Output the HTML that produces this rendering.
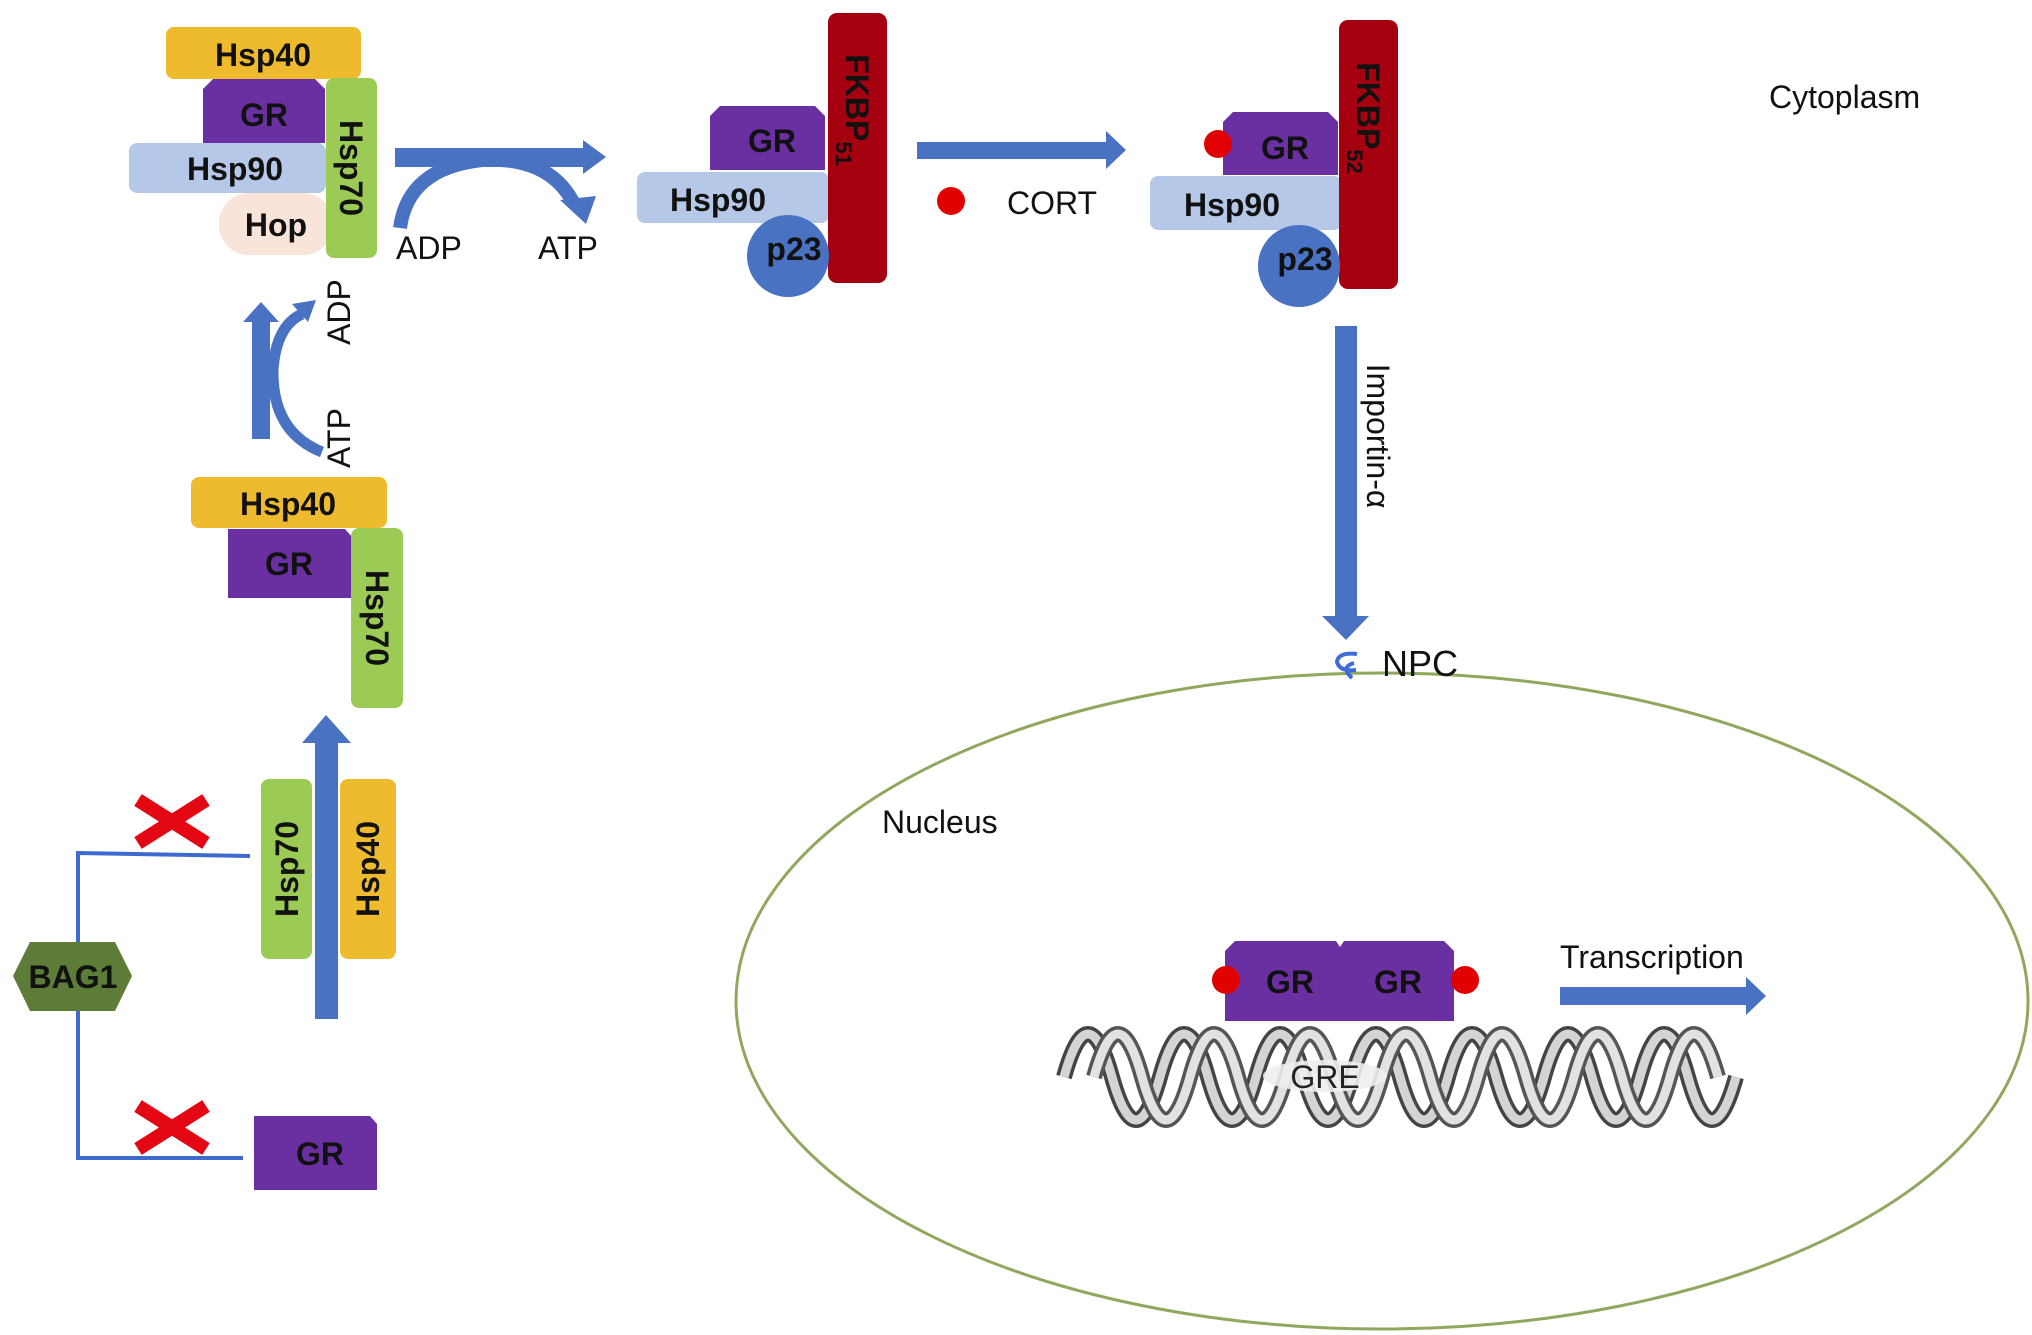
<!DOCTYPE html>
<html><head><meta charset="utf-8"><style>
html,body{margin:0;padding:0;background:#fff;}
svg{display:block;}
text{font-family:"Liberation Sans",Arial,sans-serif;}
.b{font-weight:bold;fill:#111;font-size:32px;}
.n{fill:#111;font-size:32px;}
</style></head><body>
<svg width="2032" height="1335" viewBox="0 0 2032 1335" xmlns="http://www.w3.org/2000/svg">
<ellipse cx="1382" cy="1001" rx="646" ry="328" fill="none" stroke="#8FA85E" stroke-width="3"/>

<rect x="166" y="27" width="195" height="52" rx="8" fill="#EFBB2E"/>
<text class="b" x="263" y="66" text-anchor="middle">Hsp40</text>
<polygon points="203,143 203,89 213,79 315,79 325,89 325,143" fill="#6A30A2"/>
<text class="b" x="264" y="126" text-anchor="middle">GR</text>
<rect x="129" y="143" width="197" height="50" rx="8" fill="#B6C8E8"/>
<text class="b" x="235" y="180" text-anchor="middle">Hsp90</text>
<rect x="219" y="193" width="114" height="62" rx="30" fill="#F8E4D8"/>
<text class="b" x="276" y="236" text-anchor="middle">Hop</text>
<rect x="326" y="78" width="51" height="180" rx="8" fill="#9CCB55"/>
<text class="b" x="351" y="168" text-anchor="middle" transform="rotate(90 351 168)" dy="11">Hsp70</text>

<rect x="395" y="148" width="190" height="19" fill="#4A72C2"/>
<polygon points="583,140 606,157 583,174" fill="#4A72C2"/>
<path d="M400 228 Q408 168 482 160 Q550 156 574 204" fill="none" stroke="#4A72C2" stroke-width="14"/>
<polygon points="560,200 596,196 586,224" fill="#4A72C2"/>
<text class="n" x="396" y="259">ADP</text>
<text class="n" x="538" y="259">ATP</text>

<rect x="252" y="318" width="18" height="121" fill="#4A72C2"/>
<polygon points="243,322 261,302 279,322" fill="#4A72C2"/>
<path d="M322 452 Q272 432 273 370 Q276 326 302 314" fill="none" stroke="#4A72C2" stroke-width="11"/>
<polygon points="292,304 316,300 308,322" fill="#4A72C2"/>
<text class="n" x="350" y="312" text-anchor="middle" transform="rotate(-90 350 312)" font-size="30">ADP</text>
<text class="n" x="350" y="438" text-anchor="middle" transform="rotate(-90 350 438)" font-size="30">ATP</text>

<rect x="191" y="477" width="196" height="51" rx="8" fill="#EFBB2E"/>
<text class="b" x="288" y="515" text-anchor="middle">Hsp40</text>
<polygon points="228,598 228,529 345,529 352,537 352,598" fill="#6A30A2"/>
<text class="b" x="289" y="575" text-anchor="middle">GR</text>
<rect x="351" y="528" width="52" height="180" rx="8" fill="#9CCB55"/>
<text class="b" x="377" y="618" text-anchor="middle" transform="rotate(90 377 618)" dy="11">Hsp70</text>

<rect x="261" y="779" width="51" height="180" rx="8" fill="#9CCB55"/>
<text class="b" x="287" y="869" text-anchor="middle" transform="rotate(-90 287 869)" dy="11">Hsp70</text>
<rect x="340" y="779" width="56" height="180" rx="8" fill="#EFBB2E"/>
<text class="b" x="368" y="869" text-anchor="middle" transform="rotate(-90 368 869)" dy="11">Hsp40</text>
<rect x="315" y="740" width="23" height="279" fill="#4A72C2"/>
<polygon points="302,743 326,715 351,743" fill="#4A72C2"/>

<polyline points="250,856 78,853 78,1158 243,1158" fill="none" stroke="#3E6AD0" stroke-width="4"/>
<polygon points="13,976 30,942 115,942 132,976 115,1011 30,1011" fill="#5C7C38"/>
<text class="b" x="73" y="988" text-anchor="middle" font-size="30">BAG1</text>
<g stroke="#E30613" stroke-width="14" stroke-linecap="butt">
<line x1="138" y1="843" x2="206" y2="800"/><line x1="138" y1="800" x2="206" y2="843"/>
<line x1="138" y1="1149" x2="206" y2="1106"/><line x1="138" y1="1106" x2="206" y2="1149"/>
</g>
<polygon points="254,1190 254,1116 370,1116 377,1124 377,1190" fill="#6A30A2"/>
<text class="b" x="320" y="1165" text-anchor="middle">GR</text>

<polygon points="710,170 710,116 720,106 815,106 825,116 825,170" fill="#6A30A2"/>
<text class="b" x="772" y="152" text-anchor="middle">GR</text>
<rect x="637" y="172" width="192" height="51" rx="8" fill="#B6C8E8"/>
<text class="b" x="718" y="211" text-anchor="middle">Hsp90</text>
<rect x="828" y="13" width="59" height="270" rx="9" fill="#A50010"/>
<text class="b" x="857" y="110" text-anchor="middle" transform="rotate(90 857 110)" dy="11">FKBP<tspan font-size="22" dy="10">51</tspan></text>
<circle cx="788" cy="256" r="41" fill="#4A72C2"/>
<text class="b" x="794" y="260" text-anchor="middle">p23</text>

<rect x="917" y="142" width="192" height="17" fill="#4A72C2"/>
<polygon points="1106,131 1126,150 1106,169" fill="#4A72C2"/>
<circle cx="951" cy="201" r="14" fill="#E00000"/>
<text class="n" x="1007" y="214">CORT</text>

<polygon points="1223,175 1223,122 1233,112 1328,112 1338,122 1338,175" fill="#6A30A2"/>
<text class="b" x="1285" y="159" text-anchor="middle">GR</text>
<circle cx="1218" cy="144" r="14" fill="#E00000"/>
<rect x="1150" y="176" width="192" height="54" rx="8" fill="#B6C8E8"/>
<text class="b" x="1232" y="216" text-anchor="middle">Hsp90</text>
<rect x="1339" y="20" width="59" height="269" rx="9" fill="#A50010"/>
<text class="b" x="1368" y="118" text-anchor="middle" transform="rotate(90 1368 118)" dy="11">FKBP<tspan font-size="22" dy="10">52</tspan></text>
<circle cx="1299" cy="266" r="41" fill="#4A72C2"/>
<text class="b" x="1305" y="270" text-anchor="middle">p23</text>

<rect x="1335" y="326" width="22" height="292" fill="#4A72C2"/>
<polygon points="1322,616 1369,616 1346,640" fill="#4A72C2"/>
<text class="n" x="1377" y="436" text-anchor="middle" transform="rotate(90 1377 436)" dy="10" font-size="30">Importin-α</text>

<path d="M1357 654 Q1338 652 1337 662 Q1340 672 1356 670 M1354 663 Q1340 667 1352 678" fill="none" stroke="#3F6BD6" stroke-width="4"/>
<text x="1382" y="676" font-size="36" fill="#111" font-family="Liberation Sans, sans-serif">NPC</text>

<text class="n" x="1769" y="108" font-size="29">Cytoplasm</text>
<text class="n" x="882" y="833" font-size="29">Nucleus</text>

<g fill="none">
<path d="M1064 1077 Q1088 991 1112 1077 T1160 1077 T1208 1077 T1256 1077 T1304 1077 T1352 1077 T1400 1077 T1448 1077 T1496 1077 T1544 1077 T1592 1077 T1640 1077 T1688 1077 T1736 1077" stroke="#444" stroke-width="16"/>
<path d="M1064 1077 Q1088 991 1112 1077 T1160 1077 T1208 1077 T1256 1077 T1304 1077 T1352 1077 T1400 1077 T1448 1077 T1496 1077 T1544 1077 T1592 1077 T1640 1077 T1688 1077 T1736 1077" stroke="#d4d4d4" stroke-width="9"/>
<path d="M1094 1077 Q1118 991 1142 1077 T1190 1077 T1238 1077 T1286 1077 T1334 1077 T1382 1077 T1430 1077 T1478 1077 T1526 1077 T1574 1077 T1622 1077 T1670 1077 T1718 1077" stroke="#555" stroke-width="16"/>
<path d="M1094 1077 Q1118 991 1142 1077 T1190 1077 T1238 1077 T1286 1077 T1334 1077 T1382 1077 T1430 1077 T1478 1077 T1526 1077 T1574 1077 T1622 1077 T1670 1077 T1718 1077" stroke="#e2e2e2" stroke-width="9"/>
</g>
<ellipse cx="1325" cy="1076" rx="62" ry="16" fill="#eee" opacity="0.9"/>
<text x="1325" y="1088" text-anchor="middle" font-size="32" fill="#222" font-family="Liberation Sans, sans-serif">GRE</text>

<polygon points="1225,1021 1225,951 1235,941 1336,941 1340,947 1344,941 1444,941 1454,951 1454,1021" fill="#6A30A2"/>
<circle cx="1226" cy="980" r="14" fill="#E00000"/>
<circle cx="1465" cy="980" r="14" fill="#E00000"/>
<text class="b" x="1290" y="993" text-anchor="middle">GR</text>
<text class="b" x="1398" y="993" text-anchor="middle">GR</text>

<text class="n" x="1560" y="968" font-size="30">Transcription</text>
<rect x="1560" y="987" width="188" height="18" fill="#4A72C2"/>
<polygon points="1746,977 1766,996 1746,1015" fill="#4A72C2"/>
</svg>
</body></html>
